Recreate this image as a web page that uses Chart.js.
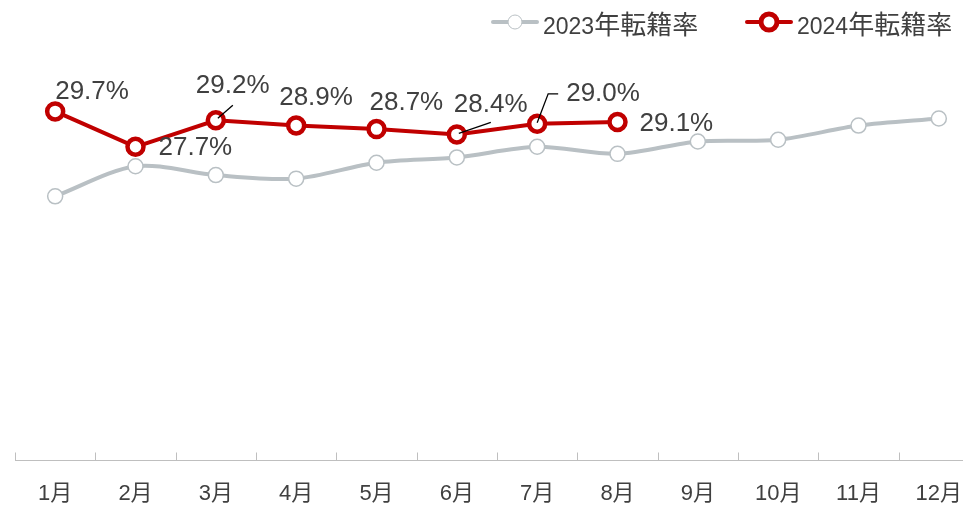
<!DOCTYPE html>
<html lang="ja">
<head>
<meta charset="utf-8">
<title>転籍率</title>
<script src="https://cdn.jsdelivr.net/npm/chart.js@4/dist/chart.umd.min.js"></script>
<style>
    html, body { margin: 0; padding: 0; background: #fff; overflow: hidden; }
    body { width: 963px; height: 505px; position: relative; font-family: "Liberation Sans", "Noto Sans CJK JP", sans-serif; }
    #chart { position: absolute; left: 0; top: 0; display: block; }
    .leg-item { position: absolute; top: 6px; height: 32px; display: flex; align-items: center; z-index: 2; }
    .leg-key { position: relative; width: 48px; height: 32px; margin-right: 4px; }
    .leg-key::before { content: ""; position: absolute; left: 0; right: 0; top: 14px; height: 4px; border-radius: 2px; }
    .leg-key::after { content: ""; position: absolute; left: 50%; top: 16px; transform: translate(-50%, -50%); border-radius: 50%; background: #fff; box-sizing: border-box; }
    .k2023::before { background: #b9c0c4; }
    .k2023::after { width: 15px; height: 15px; border: 1.5px solid #b9c0c4; }
    .k2024::before { background: #c00000; }
    .k2024::after { width: 21px; height: 21px; border: 5px solid #c00000; }
    .leg-text { font-size: 23px; color: #404040; white-space: nowrap; }
    .leg-text .jp { font-size: 26px; }
</style>
</head>
<body>
<div id="legend">
    <div class="leg-item" style="left:491px"><span class="leg-key k2023"></span><span class="leg-text">2023<span class="jp">年転籍率</span></span></div>
    <div class="leg-item" style="left:745px"><span class="leg-key k2024"></span><span class="leg-text">2024<span class="jp">年転籍率</span></span></div>
</div>
<canvas id="chart" width="980" height="505"></canvas>
<script>
// ---- data ----
const months = ['1月', '2月', '3月', '4月', '5月', '6月', '7月', '8月', '9月', '10月', '11月', '12月'];
const rate2023 = [24.9, 26.6, 26.1, 25.9, 26.8, 27.1, 27.7, 27.3, 28.0, 28.1, 28.9, 29.3];
const rate2024 = [29.7, 27.7, 29.2, 28.9, 28.7, 28.4, 29.0, 29.1];
const seriesNames = ['2023年転籍率', '2024年転籍率'];

// label placement for 2024 values (offset from point, optional leader line)
const labelPlacement = [
    { dx: 0, dy: -20 },
    { dx: 23, dy: 1 },
    { dx: -20, dy: -34, leader: [[2, -2], [17, -15]] },
    { dx: -17, dy: -28 },
    { dx: -7, dy: -26 },
    { dx: -3, dy: -30, leader: [[2, -1], [34, -12]] },
    { dx: 29, dy: -30, leader: [[0, -1], [11, -30], [21, -30]] },
    { dx: 22, dy: 2 }
];

const FONT = '"Liberation Sans", "Noto Sans CJK JP", sans-serif';
const TEXT = '#404040';

const axisPlugin = {
    id: 'axisLine',
    afterDraw(chart) {
        const { ctx, chartArea } = chart;
        const x = chart.scales.x;
        const half = (x.getPixelForValue(1) - x.getPixelForValue(0)) / 2;
        ctx.save();
        ctx.strokeStyle = '#bfbfbf';
        ctx.lineWidth = 1;
        ctx.beginPath();
        const yb = Math.round(chartArea.bottom) + 0.5;
        ctx.moveTo(chartArea.left, yb);
        ctx.lineTo(chartArea.right, yb);
        for (let i = 0; i <= months.length; i++) {
            const px = Math.round(x.getPixelForValue(i) - half) + 0.5;
            ctx.moveTo(px, yb);
            ctx.lineTo(px, yb - 8);
        }
        ctx.stroke();
        ctx.restore();
    }
};

const labelPlugin = {
    id: 'valueLabels',
    afterDatasetsDraw(chart) {
        const { ctx } = chart;
        const meta = chart.getDatasetMeta(1);
        ctx.save();
        meta.data.forEach((pt, i) => {
            const p = labelPlacement[i];
            if (p.leader) {
                ctx.strokeStyle = '#000';
                ctx.lineWidth = 1.3;
                ctx.beginPath();
                p.leader.forEach(([lx, ly], k) => {
                    if (k === 0) ctx.moveTo(pt.x + lx, pt.y + ly);
                    else ctx.lineTo(pt.x + lx, pt.y + ly);
                });
                ctx.stroke();
            }
            ctx.fillStyle = TEXT;
            ctx.font = '26px ' + FONT;
            ctx.textAlign = 'left';
            ctx.textBaseline = 'middle';
            ctx.fillText(rate2024[i].toFixed(1) + '%', pt.x + p.dx, pt.y + p.dy);
        });
        ctx.restore();
    }
};

const chart = new Chart(document.getElementById('chart'), {
    type: 'line',
    data: {
        labels: months,
        datasets: [
            {
                label: seriesNames[0],
                data: rate2023,
                borderColor: '#b9c0c4',
                borderWidth: 4,
                tension: 0.3,
                pointRadius: 7.5,
                pointBorderWidth: 1.5,
                pointBackgroundColor: '#fff',
                pointBorderColor: '#b9c0c4',
                order: 2
            },
            {
                label: seriesNames[1],
                data: rate2024,
                borderColor: '#c00000',
                borderWidth: 4,
                tension: 0,
                pointRadius: 8,
                pointBorderWidth: 4.5,
                pointBackgroundColor: '#fff',
                pointBorderColor: '#c00000',
                order: 1
            }
        ]
    },
    options: {
        responsive: false,
        animation: false,
        layout: { autoPadding: false, padding: { left: 15, right: 1, top: 53, bottom: 0 } },
        plugins: {
            legend: { display: false },
            tooltip: { enabled: false }
        },
        scales: {
            x: {
                offset: true,
                grid: { display: false, drawTicks: false },
                border: { display: false },
                ticks: {
                    color: TEXT,
                    padding: 21,
                    font: { family: FONT, size: 22 },
                    maxRotation: 0,
                    autoSkip: false
                },
                afterFit(scale) {
                    // fixed axis band so the baseline sits where the original has it
                    scale.height = 45;
                    scale.paddingLeft = 0;
                    scale.paddingRight = 0;
                }
            },
            y: {
                display: false,
                min: 10,
                max: 33
            }
        }
    },
    plugins: [axisPlugin, labelPlugin]
});
</script>
</body>
</html>
